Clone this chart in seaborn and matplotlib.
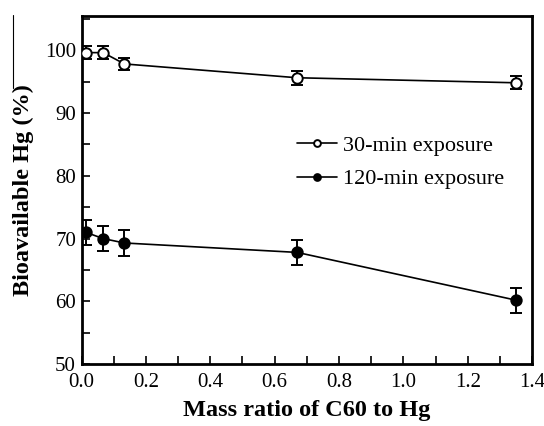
import seaborn as sns
import matplotlib.pyplot as plt
import pandas as pd
import numpy as np
from matplotlib.ticker import MultipleLocator
from matplotlib.lines import Line2D

sns.set_theme(style="ticks")
plt.rcParams['font.family'] = ['Liberation Serif', 'DejaVu Serif']
plt.rcParams['text.color'] = 'black'
plt.rcParams['axes.labelcolor'] = 'black'

# Values
mass_ratio = [0.013, 0.067, 0.133, 0.67, 1.35]
hg_30min = [99.6, 99.6, 97.8, 95.6, 94.8]
err_30min = [1.0, 1.0, 1.0, 1.1, 1.0]
hg_120min = [71.0, 70.0, 69.3, 67.8, 60.2]
err_120min = [2.0, 2.0, 2.0, 2.0, 2.0]

series = [
    ("30-min exposure", hg_30min, err_30min, "white"),
    ("120-min exposure", hg_120min, err_120min, "black"),
]

fig = plt.figure(figsize=(5.44, 4.26), dpi=100)
ax = fig.add_axes([0.150, 0.145, 0.828, 0.817])

for label, vals, errs, face in series:
    df = pd.DataFrame({"ratio": mass_ratio, "hg": vals})
    ax.errorbar(df["ratio"], df["hg"], yerr=errs, fmt="none", ecolor="black",
                elinewidth=1.4, capsize=4, capthick=1.4, zorder=2)
    sns.lineplot(data=df, x="ratio", y="hg", ax=ax, color="black", linewidth=1.2,
                 marker="o", markersize=7.5, markerfacecolor=face,
                 markeredgecolor="black", markeredgewidth=1.4, label=label, zorder=3)

ax.set_xlim(0, 1.4)
ax.set_ylim(50, 105.4)
ax.xaxis.set_minor_locator(MultipleLocator(0.1))
ax.yaxis.set_major_locator(MultipleLocator(10))
ax.yaxis.set_minor_locator(MultipleLocator(5))
ax.set_xticks(np.arange(0, 1.41, 0.2))
ax.set_xticklabels([f"{v:.1f}" for v in np.arange(0, 1.41, 0.2)])
ax.tick_params(which="both", direction="in", width=1.2, colors="black",
               labelsize=15, length=6)
ax.tick_params(axis="y", pad=4)
ax.tick_params(axis="x", pad=6)
for s in ax.spines.values():
    s.set_linewidth(2.0)
    s.set_color("black")

ax.set_xlabel("Mass ratio of C60 to Hg", fontsize=17.5, fontweight="bold", labelpad=6)
ax.set_ylabel("Bioavailable Hg (%)", fontsize=17.5, fontweight="bold", labelpad=8)

ax.legend(loc="upper left", bbox_to_anchor=(0.434, 0.716), frameon=False,
          fontsize=16, handlelength=1.8, handletextpad=0.25, labelspacing=0.6,
          borderpad=0.4, markerscale=0.65)

# thin border line at the left edge of the original figure
fig.add_artist(Line2D([12.5 / 544, 12.5 / 544], [1 - 15 / 426, 1 - 88 / 426],
                      color="black", linewidth=0.8))

fig.savefig("out.png", dpi=100)
